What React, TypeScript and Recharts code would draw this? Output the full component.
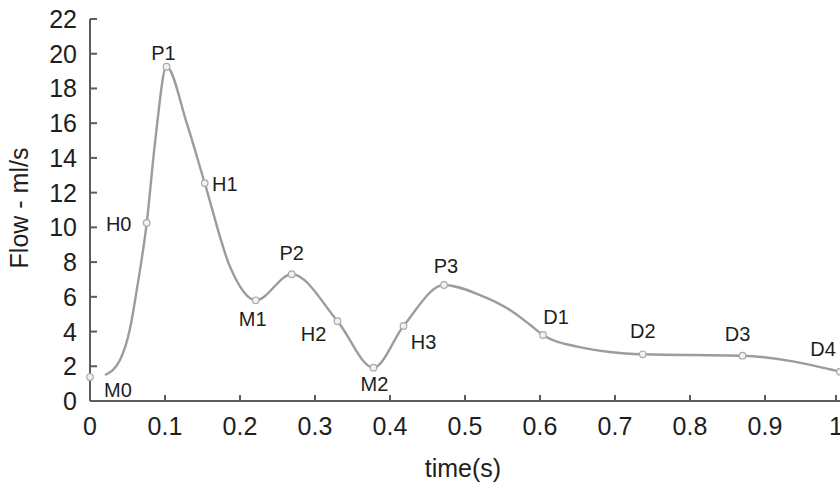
import React from 'react';
import { LineChart, Line, XAxis, YAxis } from 'recharts';

// values
const times = [0.02, 0.04, 0.053, 0.062, 0.0756, 0.087, 0.102, 0.129, 0.153, 0.187, 0.221, 0.269, 0.33, 0.378, 0.418, 0.472, 0.52, 0.56, 0.587, 0.604, 0.653, 0.693, 0.737, 0.87, 1.0];
const flow = [1.5, 2.36, 4.1, 6.3, 10.25, 15.0, 19.25, 16.0, 12.55, 7.7, 5.8, 7.3, 4.6, 1.92, 4.32, 6.68, 6.1, 5.24, 4.38, 3.8, 3.1, 2.82, 2.69, 2.61, 1.69];
const pointNames = ['M0', '', '', '', 'H0', '', 'P1', '', 'H1', '', 'M1', 'P2', 'H2', 'M2', 'H3', 'P3', '', '', '', 'D1', '', '', 'D2', 'D3', 'D4'];
const startTime = [0];
const startFlow = [1.38];
const xTicks = [0, 0.1, 0.2, 0.3, 0.4, 0.5, 0.6, 0.7, 0.8, 0.9, 1];
const yTicks = [0, 2, 4, 6, 8, 10, 12, 14, 16, 18, 20, 22];

const curve = times.map((t, i) => ({ t, v: flow[i], name: pointNames[i] }));
const start = startTime.map((t, i) => ({ t, v: startFlow[i], name: '' }));

// where each point's label sits, relative to the point
const labelOffset: Record<string, [number, number]> = {
  M0: [13, 15], H0: [-28, 1], P1: [-3, -14], H1: [20, 1], M1: [-3, 19], P2: [0, -21],
  H2: [-24, 13], M2: [1, 16], H3: [20, 16], P3: [2, -19], D1: [13, -18], D2: [0, -23],
  D3: [-5, -22], D4: [-17, -23],
};

const W = 840;
const H = 488;
const LEFT = 90;
const TOP = 19;
const BOTTOM = 401;
const TEXT = '#1e1e1e';
const AXIS = '#5c5c5c';
const FONT = 'Liberation Sans, Arial, sans-serif';

const markerDot = (showMarker: boolean) => (p: any) => {
  const name = p.payload?.name;
  const key = `d-${p.index}-${p.cx}`;
  if (!showMarker && !name) return <g key={key} />;
  const off = name ? labelOffset[name] : null;
  return (
    <g key={key}>
      {(showMarker || name !== 'M0') && (
        <circle cx={p.cx} cy={p.cy} r={3.3} fill="#f2f2f2" stroke="#aaaaaa" strokeWidth={1.2} />
      )}
      {off && (
        <text x={p.cx + off[0]} y={p.cy + off[1]} dy="0.36em" textAnchor="middle" fontSize={20} fill={TEXT} fontFamily={FONT}>
          {name}
        </text>
      )}
    </g>
  );
};

const XTick = (p: any) => (
  <g>
    <line x1={p.x} x2={p.x} y1={BOTTOM} y2={BOTTOM - 6} stroke={AXIS} strokeWidth={2} />
    <text x={p.x} y={435} textAnchor="middle" fontSize={25} fill={TEXT} fontFamily={FONT}>
      {p.payload.value}
    </text>
  </g>
);

const YTick = (p: any) => (
  <g>
    <line x1={LEFT} x2={LEFT + 7} y1={p.y} y2={p.y} stroke={AXIS} strokeWidth={2} />
    <text x={77} y={p.y} dy="0.36em" textAnchor="end" fontSize={25} fill={TEXT} fontFamily={FONT}>
      {p.payload.value}
    </text>
  </g>
);

export default function App() {
  return (
    <div style={{ position: 'absolute', left: 0, top: 0, width: W, height: H, background: '#fff' }}>
      <LineChart width={W} height={H} margin={{ top: TOP, right: 0, bottom: 0, left: 0 }}>
        <XAxis
          dataKey="t"
          type="number"
          domain={[0, 1]}
          ticks={xTicks}
          height={H - BOTTOM}
          tick={XTick}
          tickLine={false}
          axisLine={{ stroke: AXIS, strokeWidth: 2 }}
          allowDuplicatedCategory={false}
          label={{
            content: () => (
              <text x={463} y={477} textAnchor="middle" fontSize={25} fill={TEXT} fontFamily={FONT}>
                time(s)
              </text>
            ),
          }}
        />
        <YAxis
          type="number"
          domain={[0, 22]}
          ticks={yTicks}
          width={LEFT}
          tick={YTick}
          tickLine={false}
          axisLine={{ stroke: AXIS, strokeWidth: 2 }}
          label={{
            content: () => (
              <text x={28} y={208} transform="rotate(-90 28 208)" textAnchor="middle" fontSize={25} fill={TEXT} fontFamily={FONT}>
                Flow - ml/s
              </text>
            ),
          }}
        />
        <Line
          data={curve}
          dataKey="v"
          type="monotone"
          stroke="#9c9c9c"
          strokeWidth={2.4}
          dot={markerDot(false)}
          activeDot={false}
          isAnimationActive={false}
        />
        <Line
          data={start}
          dataKey="v"
          stroke="none"
          dot={markerDot(true)}
          activeDot={false}
          isAnimationActive={false}
        />
      </LineChart>
    </div>
  );
}
